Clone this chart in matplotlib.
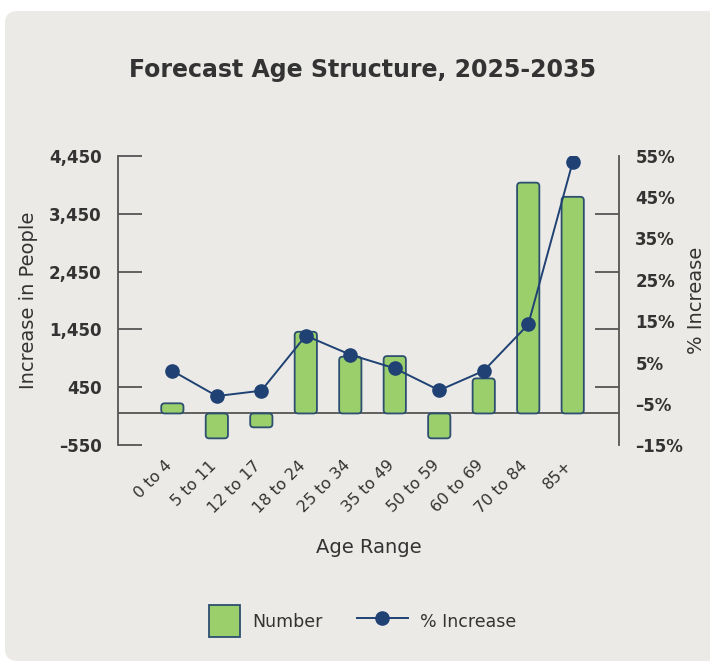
import numpy as np
import matplotlib
matplotlib.use("Agg")
from matplotlib import pyplot as plt
from matplotlib.patches import FancyBboxPatch, Rectangle
from matplotlib.lines import Line2D
from matplotlib.legend_handler import HandlerPatch
from matplotlib.transforms import ScaledTranslation

plt.rcParams['font.family'] = ['DejaVu Sans']

# data
age_ranges = ["0 to 4", "5 to 11", "12 to 17", "18 to 24", "25 to 34",
              "35 to 49", "50 to 59", "60 to 69", "70 to 84", "85+"]
number = [175, -430, -240, 1410, 980, 990, -430, 605, 3985, 3740]
pct_increase = [3.0, -3.1, -1.8, 11.5, 6.9, 3.6, -1.7, 3.0, 14.2, 53.5]

left_ticks = [-550, 450, 1450, 2450, 3450, 4450]
right_labels = [-15, -5, 5, 15, 25, 35, 45, 55]

green = "#9bcf6c"
navy = "#1f4173"
txt = "#333333"
axis_col = "#555555"

fig = plt.figure(figsize=(7.1, 6.61), dpi=100)
fig.patch.set_facecolor("white")

# rounded panel behind everything
panel = FancyBboxPatch((5 / 710, 0.0 / 661), 720 / 710, 650 / 661,
                       boxstyle="round,pad=0,rounding_size=0.018",
                       transform=fig.transFigure, facecolor="#ebeae6",
                       edgecolor="none", zorder=-10)
fig.add_artist(panel)

ax = fig.add_axes([118.3 / 710, 1 - 445.3 / 661, 500.4 / 710, 289.6 / 661])
ax.set_facecolor("none")
x = np.arange(len(age_ranges))

bars = ax.bar(x, number, width=0.5, color=green)
# swap plain bars for rounded ones
xr = 44.47  # px per x unit
yr = 289.6 / 5000  # px per y unit
for b in bars:
    bx, by, bw, bh = b.get_x(), b.get_y(), b.get_width(), b.get_height()
    if bh < 0:
        by, bh = by + bh, -bh
    p = FancyBboxPatch((bx, by), bw, bh,
                       boxstyle="round,pad=0,rounding_size=%f" % (3.5 / xr),
                       mutation_aspect=(1 / yr) / (1 / xr),
                       facecolor=green, edgecolor="#2c4f70", linewidth=1.3,
                       zorder=2)
    ax.add_patch(p)
    b.remove()

ax.axhline(0, color=axis_col, lw=1.3, zorder=1)
ax.set_xlim(-1.215, 10.034)
ax.set_ylim(-550, 4450)
ax.set_yticks(left_ticks)
ax.set_yticklabels(["{:,}".format(v).replace("-", "\u2013") for v in left_ticks],
                   fontweight="bold", fontsize=12, color=txt)
ax.tick_params(axis="y", direction="in", length=17, width=1.3, color=axis_col, pad=12)
ax.set_xticks(x)
ax.set_xticklabels(age_ranges, rotation=45, ha="right", rotation_mode="anchor",
                   fontsize=11.5, color=txt)
ax.tick_params(axis="x", length=0, pad=9)
shift = ScaledTranslation(-0.08, 0, fig.dpi_scale_trans)
for lab in ax.get_xticklabels():
    lab.set_transform(lab.get_transform() + shift)
for s in ["top", "bottom", "right"]:
    ax.spines[s].set_visible(False)
ax.spines["left"].set_color(axis_col)
ax.spines["left"].set_linewidth(1.3)
ax.set_ylabel("Increase in People", fontsize=14, color=txt, labelpad=8)
ax.set_xlabel("Age Range", fontsize=14, color=txt, labelpad=16)

ax2 = ax.twinx()
ax2.plot(x, pct_increase, color=navy, lw=1.4, marker="o", markersize=9.5, zorder=3)
ax2.set_ylim(-15, 55)
ax2.set_yticks(right_labels)
ax2.set_yticklabels([("\u2013" if v < 0 else "") + "%d%%" % abs(v) for v in right_labels],
                    fontweight="bold", fontsize=12, color=txt)
ax2.tick_params(axis="y", which="major", length=0, pad=12)
ax2.set_yticks([-15 + 14 * k for k in range(6)], minor=True)
ax2.tick_params(axis="y", which="minor", direction="in", length=17, width=1.3, color=axis_col)
for s in ["top", "bottom", "left"]:
    ax2.spines[s].set_visible(False)
ax2.spines["right"].set_color(axis_col)
ax2.spines["right"].set_linewidth(1.3)
ax2.set_ylabel("% Increase", fontsize=14, color=txt, labelpad=3)

fig.text(0.51, 1 - 70 / 661, "Forecast Age Structure, 2025-2035", ha="center", va="center",
         fontsize=17, fontweight="bold", color=txt)


def square(legend, orig_handle, xdescent, ydescent, width, height, fontsize):
    side = 1.8 * fontsize
    return Rectangle((width - side - xdescent, -ydescent + (height - side) / 2), side, side)


h_bar = Rectangle((0, 0), 1, 1, facecolor=green, edgecolor="#2c4f70", linewidth=1.3)
h_line = Line2D([], [], color=navy, lw=1.4, marker="o", markersize=9.5)
fig.legend([h_bar, h_line], ["Number", "% Increase"], loc="center",
           bbox_to_anchor=(0.497, 1 - 621 / 661), ncol=2, frameon=False,
           fontsize=12.5, handlelength=2.9, handleheight=1.8, handletextpad=0.7,
           columnspacing=2.0, labelcolor=txt,
           handler_map={Rectangle: HandlerPatch(patch_func=square)})

fig.savefig("out.png", dpi=100)
